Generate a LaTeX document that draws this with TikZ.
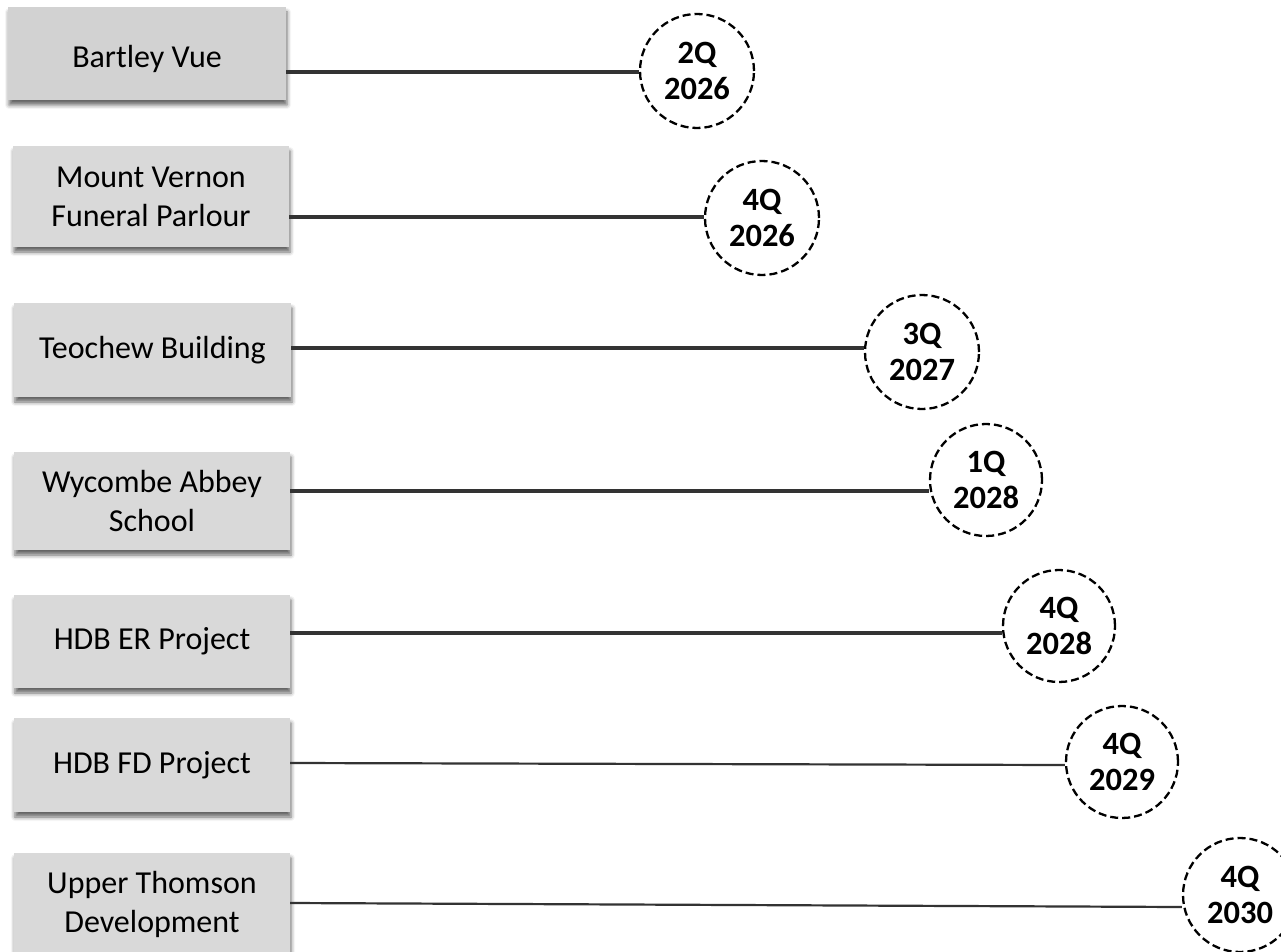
\documentclass[tikz,border=0pt]{standalone}
\usepackage{fontspec}
\setmainfont{Carlito}
\usetikzlibrary{shadows.blur}
\definecolor{boxgray}{HTML}{D9D9D9}
\definecolor{boxgrayA}{HTML}{D2D2D2}
\definecolor{linegray}{HTML}{333333}
\begin{document}
\begin{tikzpicture}[x=1pt,y=-1pt,
  site/.style={draw=none, fill=boxgray, minimum width=276pt, align=center,
    font=\fontsize{32}{39}\selectfont, inner sep=0pt,
    blur shadow={shadow xshift=1pt, shadow yshift=-5pt, shadow blur radius=4pt, shadow opacity=60}},
  date/.style={circle, draw=black, dash pattern=on 8pt off 4pt, line width=2.3pt, fill=white,
    minimum size=112pt, inner sep=0pt, align=center,
    font=\fontsize{32.5}{36}\selectfont\bfseries},
  conn/.style={draw=linegray, line width=3.2pt},
  connthin/.style={draw=linegray, line width=2.2pt}]
\useasboundingbox (0,0) rectangle (1281,952);
\clip (0,0) rectangle (1281,952);
% boxes
\node[site, fill=boxgrayA, minimum width=278pt, minimum height=93pt] (b1) at (147,53.5) {\raisebox{-5pt}[\height][\depth]{Bartley Vue}};
\node[site, minimum height=101pt] (b2) at (151,196.5) {Mount Vernon\\Funeral Parlour};
\node[site, minimum width=277pt, minimum height=94pt] (b3) at (152.5,350) {Teochew Building};
\node[site, minimum height=98pt] (b4) at (152,501) {Wycombe Abbey\\School};
\node[site, minimum height=93pt] (b5) at (152,641.5) {HDB ER Project};
\node[site, minimum height=94pt] (b6) at (152,765) {HDB FD Project};
\node[site, minimum height=102pt] (b7) at (152,904) {Upper Thomson\\Development};
% dates
\node[date, minimum size=114pt] (c1) at (697,71) {2Q\\2026};
\node[date, minimum size=114pt] (c2) at (762,218) {4Q\\2026};
\node[date, minimum size=114pt] (c3) at (922,352) {3Q\\2027};
\node[date] (c4) at (986,480) {1Q\\2028};
\node[date] (c5) at (1059,626) {4Q\\2028};
\node[date] (c6) at (1122,762) {4Q\\2029};
\node[date, minimum size=114pt] (c7) at (1240,895) {4Q\\2030};
% connectors
\draw[conn] (b1.east |- 0,72) -- (c1.west |- 0,72);
\draw[conn] (b2.east |- 0,217) -- (c2.west |- 0,217);
\draw[conn] (b3.east |- 0,348) -- (c3.west |- 0,348);
\draw[conn] (b4.east |- 0,491) -- (c4.west |- 0,491);
\draw[conn] (b5.east |- 0,633) -- (c5.west |- 0,633);
\draw[connthin] (b6.east |- 0,763) -- (c6.west |- 0,765);
\draw[connthin] (b7.east |- 0,903) -- (c7.west |- 0,907);
\end{tikzpicture}
\end{document}
